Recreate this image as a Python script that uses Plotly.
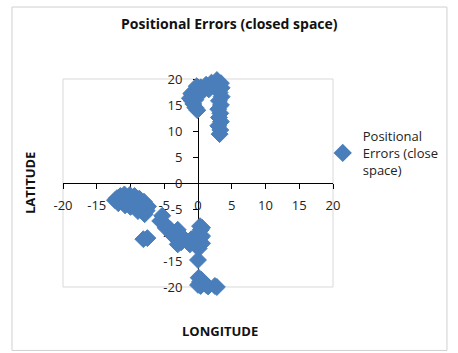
import plotly.graph_objects as go

# Positional error samples (longitude, latitude)
longitude = [
    # northern hook
    2.8, 2.0, 1.2, 0.4, -0.4, -1.0, -1.2, 1.6, 0.8, 0.0, -0.4, -0.7, -0.4, -0.1, 3.4, 3.5,
    -0.8, -0.9, 0.3, -0.2,
    3.2, 3.5, 3.1, 3.4, 3.0, 3.3, 3.1, 3.4, 3.0, 3.3, 3.2,
    # western band
    -12.3, -11.5, -11.2, -10.4, -10.8, -9.4, -9.8, -8.7, -9.2, -8.0, -8.4, -7.4, -7.9, -10.0,
    -12.0, -11.8, -10.9, -10.1, -10.6, -9.6, -9.0, -8.3, -8.6, -7.6, -8.9,
    -5.3, -5.6, -5.0,
    -4.5, -4.0, -3.6, -3.0, -3.0, -3.0, -1.8, -1.2, -0.6, -2.4,
    -4.8, -4.2, -3.8, -3.4, -2.6, -2.5, -1.5, -1.0,
    # southern column
    0.3, 0.4, 0.0, 0.4, 0.1, 0.3, 0.1, 0.6, 0.6, 0.6,
    -8.1, -7.5,
    0.0, 0.1, 0.3, 0.0, 0.8, 1.5, 2.2, 2.8,
    0.5, 0.4, 1.2, 1.8, 2.5,
]
latitude = [
    19.8, 19.3, 18.9, 18.4, 17.8, 17.2, 16.3, 18.0, 17.8, 17.0, 16.0, 15.2, 14.5, 14.0, 19.2, 18.3,
    16.8, 15.8, 17.6, 18.6,
    17.4, 16.6, 15.8, 15.0, 14.2, 13.4, 12.6, 11.8, 11.0, 10.2, 9.4,
    -3.3, -2.5, -3.6, -3.0, -4.3, -2.5, -3.8, -3.0, -4.8, -3.6, -5.2, -4.5, -6.0, -4.6,
    -2.9, -3.9, -2.2, -2.3, -3.6, -3.1, -4.0, -4.2, -3.3, -5.3, -5.4,
    -6.3, -7.3, -7.8,
    -8.5, -9.3, -10.2, -9.0, -11.0, -11.8, -11.0, -11.8, -11.0, -10.6,
    -8.6, -8.8, -10.0, -9.6, -10.0, -11.4, -11.3, -10.8,
    -8.3, -9.0, -9.8, -10.5, -11.2, -11.9, -12.6, -8.6, -10.2, -11.6,
    -10.8, -10.6,
    -14.8, -18.2, -19.0, -19.6, -20.1, -19.9, -20.1, -20.0,
    -18.6, -19.8, -19.6, -20.2, -19.8,
]

axis_ticks = [-20, -15, -10, -5, 0, 5, 10, 15, 20]

title_text = "Positional Errors (closed space)"
series_name = "Positional<br>Errors (close<br>space)"
x_title = "LONGITUDE"
y_title = "LATITUDE"

BLUE = "#4A7EBB"
FONT = "Open Sans, Liberation Sans, sans-serif"

fig = go.Figure()
fig.add_trace(go.Scatter(
    x=longitude, y=latitude, mode="markers", name=series_name,
    marker=dict(symbol="diamond", size=13, color=BLUE, line=dict(width=1, color=BLUE)),
    cliponaxis=False, showlegend=True,
))

axis_common = dict(
    range=[-20, 20], tickmode="array", tickvals=axis_ticks,
    ticktext=[str(v) for v in axis_ticks],
    showgrid=False, zeroline=False, showline=True, linecolor="#000000", linewidth=1,
    ticks="outside", ticklen=5, tickcolor="#000000", tickwidth=1,
    tickfont=dict(family=FONT, size=13, color="#222222"),
    anchor="free", position=0.5, layer="below traces", fixedrange=True,
)

fig.update_layout(
    width=458, height=353,
    margin=dict(l=63, r=125, t=79, b=66, autoexpand=False),
    paper_bgcolor="white", plot_bgcolor="white",
    xaxis=dict(**axis_common, ticklabelstandoff=5),
    yaxis=dict(**axis_common, ticklabelstandoff=8),
    showlegend=True,
    legend=dict(
        x=0.962, y=0.644, xanchor="left", yanchor="middle",
        font=dict(family=FONT, size=13, color="#222222"),
        bgcolor="rgba(0,0,0,0)", borderwidth=0, valign="middle",
        itemsizing="constant",
    ),
    shapes=[
        # outer chart frame
        dict(type="rect", xref="paper", yref="paper",
             x0=-0.189, x1=1.422, y0=-0.305, y1=1.346,
             line=dict(color="#d0d0d0", width=1), layer="below"),
        # plot-area frame
        dict(type="rect", xref="paper", yref="paper",
             x0=0, x1=1, y0=0, y1=1,
             line=dict(color="#d9d9d9", width=1), layer="below"),
    ],
    annotations=[
        dict(text=f"<b>{title_text}</b>", xref="paper", yref="paper",
             x=(229 - 63) / 270, y=(287 - 23) / 208, xanchor="center", yanchor="middle",
             showarrow=False, font=dict(family=FONT, size=14, color="#111111")),
        dict(text=f"<b>{x_title}</b>", xref="paper", yref="paper",
             x=(220 - 63) / 270, y=(287 - 331) / 208, xanchor="center", yanchor="middle",
             showarrow=False, font=dict(family=FONT, size=13, color="#111111")),
        dict(text=f"<b>{y_title}</b>", xref="paper", yref="paper",
             x=(30 - 63) / 270, y=0.5, xanchor="center", yanchor="middle", textangle=-90,
             showarrow=False, font=dict(family=FONT, size=13, color="#111111")),
    ],
)

fig.write_html("out.html")
